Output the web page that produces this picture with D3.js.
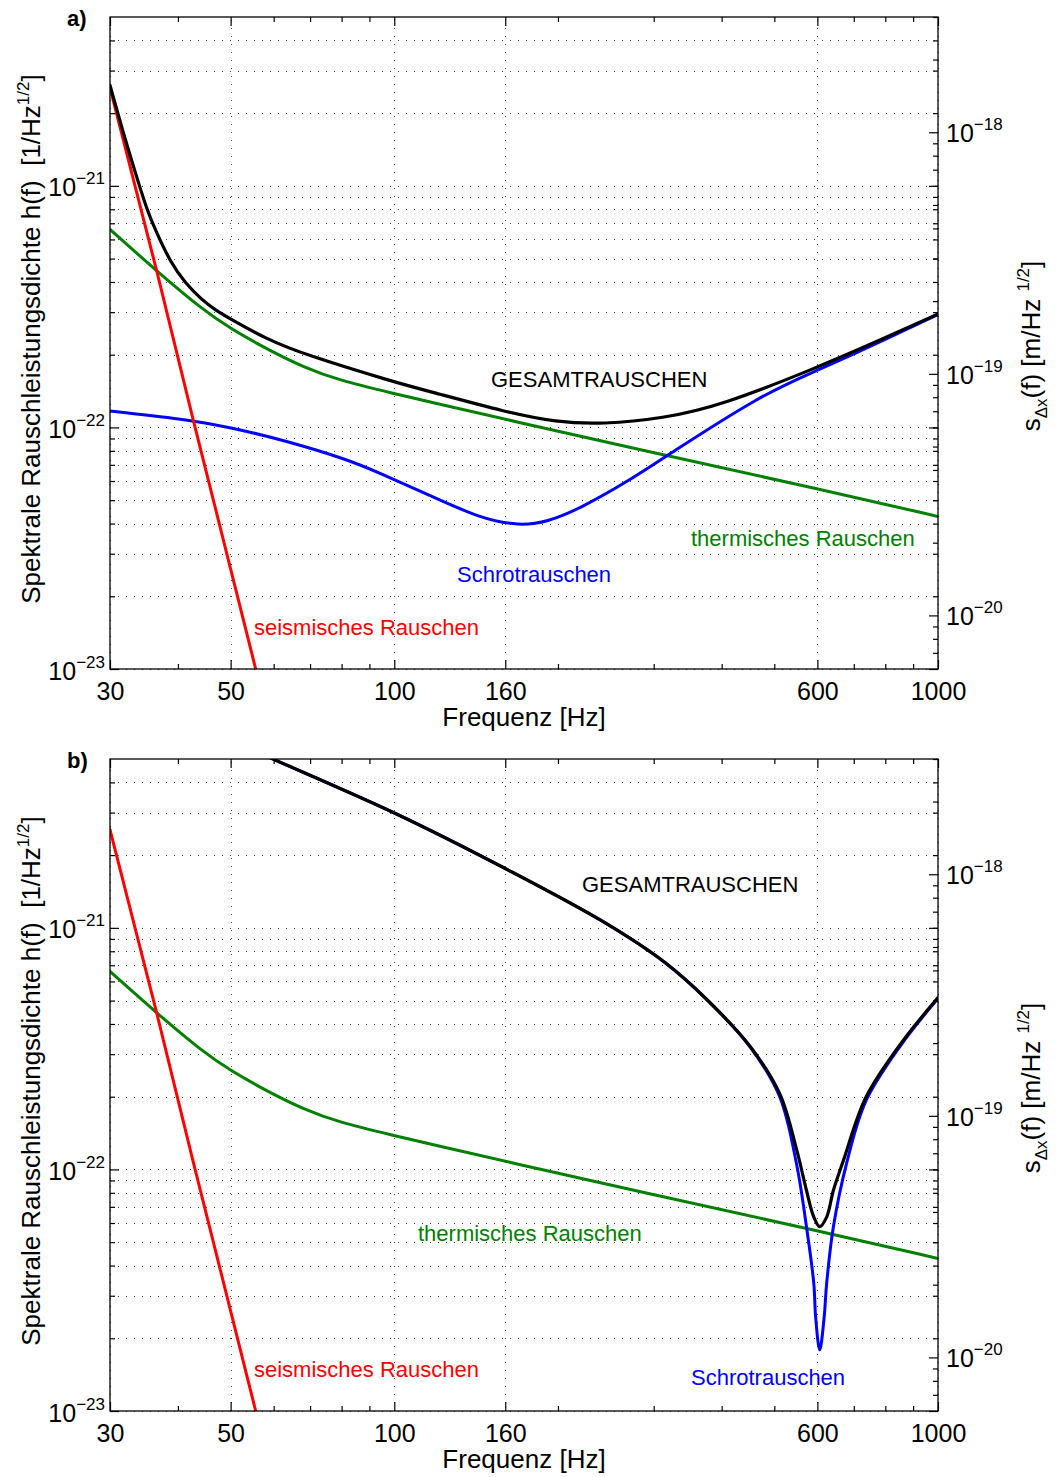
<!DOCTYPE html>
<html>
<head>
<meta charset="utf-8">
<script src="https://cdn.jsdelivr.net/npm/d3@7"></script>
<style>
    body { margin: 0; background: #ffffff; }
    svg text { font-family: "Liberation Sans", Arial, Helvetica, sans-serif; }
</style>
</head>
<body>
<div id="graph"></div>
<script>
// Axis ticks
var freqMajor = [30, 50, 100, 160, 600, 1000];
var freqMinor = [40, 60, 70, 80, 90, 200, 300, 400, 500, 700, 800, 900];
var hMajor = [1e-23, 1e-22, 1e-21];
var hMinor = [2e-23, 3e-23, 4e-23, 5e-23, 6e-23, 7e-23, 8e-23, 9e-23,
              2e-22, 3e-22, 4e-22, 5e-22, 6e-22, 7e-22, 8e-22, 9e-22,
              2e-21, 3e-21, 4e-21];
var sMajor = [1e-20, 1e-19, 1e-18];
var sMinor = [7e-21, 8e-21, 9e-21,
              2e-20, 3e-20, 4e-20, 5e-20, 6e-20, 7e-20, 8e-20, 9e-20,
              2e-19, 3e-19, 4e-19, 5e-19, 6e-19, 7e-19, 8e-19, 9e-19,
              2e-18, 3e-18];
var armLength = 600;   // s = h * L  [m]

// [frequency Hz, h(f)]
var seismic = [[30, 2.55e-21], [36.6, 4.4e-22], [42.7, 1.07e-22], [55.6, 1.0e-23], [58, 6.8e-24]];

var thermal = [[30, 6.6e-22], [36.6, 4.43e-22], [44.2, 3.1e-22], [50, 2.56e-22], [59.5, 2.06e-22],
               [68, 1.78e-22], [78.8, 1.57e-22], [100, 1.38e-22], [118.8, 1.26e-22], [160, 1.08e-22],
               [316, 7.65e-23], [600, 5.58e-23], [1000, 4.28e-23]];

var shotA = [[30, 1.17e-22], [42.7, 1.07e-22], [50, 1.0e-22], [63, 8.83e-23], [82.3, 7.35e-23],
             [94.1, 6.47e-23], [116, 5.24e-23], [144, 4.2e-23], [170, 3.91e-23], [191, 4.06e-23],
             [219, 4.6e-23], [271, 6.04e-23], [316, 7.6e-23], [477, 1.38e-22], [600, 1.72e-22],
             [780, 2.25e-22], [1000, 2.93e-22]];

var totalA = [[30, 2.61e-21], [32, 1.55e-21], [33.8, 1.04e-21], [35, 8.1e-22], [36.3, 6.6e-22],
              [38.9, 4.75e-22], [41.2, 3.98e-22], [44.2, 3.38e-22], [47, 3.05e-22], [50, 2.81e-22],
              [58, 2.33e-22], [68.5, 2.0e-22], [100, 1.54e-22], [118.8, 1.39e-22], [160, 1.16e-22],
              [198.6, 1.05e-22], [242, 1.03e-22], [312, 1.09e-22], [398, 1.23e-22], [600, 1.77e-22],
              [780, 2.29e-22], [1000, 2.95e-22]];

var shotB = [[57, 5.25e-21], [59.8, 5.0e-21], [100, 2.99e-21], [160, 1.76e-21], [244, 1.05e-21],
             [315, 7.17e-22], [376, 5.04e-22], [451.8, 3.2e-22], [511.5, 2.0e-22], [549, 1.06e-22],
             [573, 5.78e-23], [591, 3.37e-23], [595.6, 2.45e-23], [606, 1.79e-23], [617.5, 2.45e-23],
             [624, 3.37e-23], [642, 5.78e-23], [679, 1.06e-22], [737, 1.92e-22], [853, 3.25e-22],
             [1000, 5.1e-22]];

var totalB = [[57, 5.25e-21], [59.8, 5.0e-21], [100, 2.99e-21], [160, 1.76e-21], [244, 1.05e-21],
              [315, 7.17e-22], [376, 5.04e-22], [451.8, 3.22e-22], [511.5, 2.06e-22],
              [549, 1.22e-22], [573, 8.18e-23], [591, 6.35e-23], [606, 5.8e-23], [624, 6.35e-23],
              [642, 8.18e-23], [670, 1.09e-22], [737, 1.99e-22], [853, 3.3e-22], [1000, 5.15e-22]];

var labelTotal   = 'GESAMTRAUSCHEN';
var labelThermal = 'thermisches Rauschen';
var labelShot    = 'Schrotrauschen';
var labelSeismic = 'seismisches Rauschen';

var colRed = '#ff0000', colGreen = '#008000', colBlue = '#0000ff', colBlack = '#000000';

var margin = { top: 17, left: 110 };
var W = 828, H = 652;
var panelGap = 742;
var tickFont = 25, labelFont = 26, noteFont = 22, expFont = 17;

var smooth = d3.curveBasis;
var sharp  = d3.curveCatmullRom.alpha(0.5);

var svg = d3.select('#graph').append('svg')
            .attr('width', 1059)
            .attr('height', 1477);

function superTen (sel, d)
{
    sel.append('tspan')
       .attr('dy', -12)
       .attr('font-size', expFont)
       .text('\u2212' + Math.round(-Math.log10(d)));
}

function drawPanel (idx, tag, series, notes)
{
    var top = margin.top + idx * panelGap;
    var g = svg.append('g').attr('transform', 'translate(' + margin.left + ',' + top + ')');

    var x  = d3.scaleLog().domain([30, 1000]).range([0, W]);
    var y  = d3.scaleLog().domain([1e-23, 5e-21]).range([H, 0]);
    var ys = d3.scaleLog().domain([1e-23 * armLength, 5e-21 * armLength]).range([H, 0]);

    // grid
    g.append('g').attr('class', 'grid')
     .call(d3.axisLeft(y).tickValues(hMajor.concat(hMinor)).tickSize(-W).tickFormat(''));
    g.append('g').attr('class', 'grid').attr('transform', 'translate(0,' + H + ')')
     .call(d3.axisBottom(x).tickValues(freqMajor).tickSize(-H).tickFormat(''));
    g.selectAll('.grid .domain').remove();
    g.selectAll('.grid line')
     .attr('stroke', '#444')
     .attr('stroke-width', 1)
     .attr('stroke-dasharray', '1,7')
     .attr('shape-rendering', 'crispEdges');

    // curves
    var clipId = 'clip' + idx;
    g.append('clipPath').attr('id', clipId)
     .append('rect').attr('width', W).attr('height', H);

    var cg = g.append('g').attr('clip-path', 'url(#' + clipId + ')');
    series.forEach(function (s) {
        var line = d3.line()
                     .x(function (d) { return x(d[0]); })
                     .y(function (d) { return y(d[1]); })
                     .curve(s.curve || d3.curveLinear);
        cg.append('path')
          .attr('d', line(s.data))
          .attr('fill', 'none')
          .attr('stroke', s.color)
          .attr('stroke-width', s.width)
          .attr('stroke-linejoin', 'round')
          .attr('stroke-linecap', 'round');
    });

    // ticks
    function tk (axis, size, pad)
    {
        return axis.tickSizeInner(size).tickSizeOuter(0).tickPadding(pad || 3);
    }

    g.append('g').attr('transform', 'translate(0,' + H + ')')
     .call(tk(d3.axisBottom(x).tickValues(freqMajor).tickFormat(d3.format('d')), -9, 13));
    g.append('g').attr('transform', 'translate(0,' + H + ')')
     .call(tk(d3.axisBottom(x).tickValues(freqMinor).tickFormat(''), -5));
    g.append('g').call(tk(d3.axisTop(x).tickValues(freqMajor).tickFormat(''), -9));
    g.append('g').call(tk(d3.axisTop(x).tickValues(freqMinor).tickFormat(''), -5));

    var left = g.append('g')
                .call(tk(d3.axisLeft(y).tickValues(hMajor).tickFormat(function () { return '10'; }), -9, 5));
    left.selectAll('.tick text').attr('dy', '0.4em').each(function (d) { superTen(d3.select(this), d); });
    g.append('g').call(tk(d3.axisLeft(y).tickValues(hMinor).tickFormat(''), -5));

    // mirrored left ticks on the right border
    g.append('g').attr('transform', 'translate(' + W + ',0)')
     .call(tk(d3.axisRight(y).tickValues(hMajor).tickFormat(''), -9));
    g.append('g').attr('transform', 'translate(' + W + ',0)')
     .call(tk(d3.axisRight(y).tickValues(hMinor).tickFormat(''), -5));

    // right axis: displacement
    var right = g.append('g').attr('transform', 'translate(' + W + ',0)')
                 .call(tk(d3.axisRight(ys).tickValues(sMajor).tickFormat(function () { return '10'; }), -9, 8));
    right.selectAll('.tick text').attr('dy', '0.38em').each(function (d) { superTen(d3.select(this), d); });
    g.append('g').attr('transform', 'translate(' + W + ',0)')
     .call(tk(d3.axisRight(ys).tickValues(sMinor).tickFormat(''), -5));

    g.selectAll('.domain').remove();
    g.selectAll('.tick text')
     .attr('font-family', '"Liberation Sans", Arial, sans-serif')
     .attr('font-size', tickFont)
     .attr('fill', '#000');
    g.selectAll('.tick line').filter(function () { return !this.closest('.grid'); })
     .attr('stroke', '#000').attr('stroke-width', 1.2);

    // frame
    g.append('rect')
     .attr('width', W).attr('height', H)
     .attr('fill', 'none')
     .attr('stroke', '#000')
     .attr('stroke-width', 1.3);

    // annotations
    notes.forEach(function (n) {
        g.append('text')
         .attr('x', n.x).attr('y', n.y)
         .attr('font-size', noteFont)
         .attr('fill', n.color)
         .text(n.text);
    });

    // panel tag
    svg.append('text')
       .attr('x', 67).attr('y', top + 9)
       .attr('font-size', 22)
       .attr('font-weight', 'bold')
       .text(tag);

    // x label
    g.append('text')
     .attr('x', W / 2).attr('y', H + 57)
     .attr('text-anchor', 'middle')
     .attr('font-size', labelFont)
     .text('Frequenz [Hz]');

    // left y label
    var yl = svg.append('text')
                .attr('transform', 'translate(40,' + (top + H / 2 - 4) + ') rotate(-90)')
                .attr('text-anchor', 'middle')
                .attr('font-size', labelFont);
    yl.append('tspan').text('Spektrale Rauschleistungsdichte h(f)\u00a0\u00a0[1/Hz');
    yl.append('tspan').attr('dy', -11).attr('font-size', expFont).text('1/2');
    yl.append('tspan').attr('dy', 11).text(']');

    // right y label
    var yr = svg.append('text')
                .attr('transform', 'translate(1040,' + (top + H / 2 + 3) + ') rotate(-90)')
                .attr('text-anchor', 'middle')
                .attr('font-size', labelFont);
    yr.append('tspan').text('s');
    yr.append('tspan').attr('dy', 7).attr('font-size', expFont).text('\u0394x');
    yr.append('tspan').attr('dy', -7).text('(f) [m/Hz ');
    yr.append('tspan').attr('dy', -11).attr('font-size', expFont).text('1/2');
    yr.append('tspan').attr('dy', 11).text(']');
}

drawPanel (0, 'a)',
    [ { data: thermal, color: colGreen, width: 3,   curve: smooth },
      { data: shotA,   color: colBlue,  width: 3,   curve: smooth },
      { data: seismic, color: colRed,   width: 3 },
      { data: totalA,  color: colBlack, width: 3.2, curve: smooth } ],
    [ { x: 381, y: 370, text: labelTotal,   color: colBlack },
      { x: 581, y: 529, text: labelThermal, color: colGreen },
      { x: 347, y: 565, text: labelShot,    color: colBlue },
      { x: 144, y: 618, text: labelSeismic, color: colRed } ]);

drawPanel (1, 'b)',
    [ { data: thermal, color: colGreen, width: 3,   curve: smooth },
      { data: shotB,   color: colBlue,  width: 3,   curve: sharp },
      { data: seismic, color: colRed,   width: 3 },
      { data: totalB,  color: colBlack, width: 3.2, curve: sharp } ],
    [ { x: 472, y: 133, text: labelTotal,   color: colBlack },
      { x: 308, y: 482, text: labelThermal, color: colGreen },
      { x: 144, y: 618, text: labelSeismic, color: colRed },
      { x: 581, y: 626, text: labelShot,    color: colBlue } ]);
</script>
</body>
</html>
